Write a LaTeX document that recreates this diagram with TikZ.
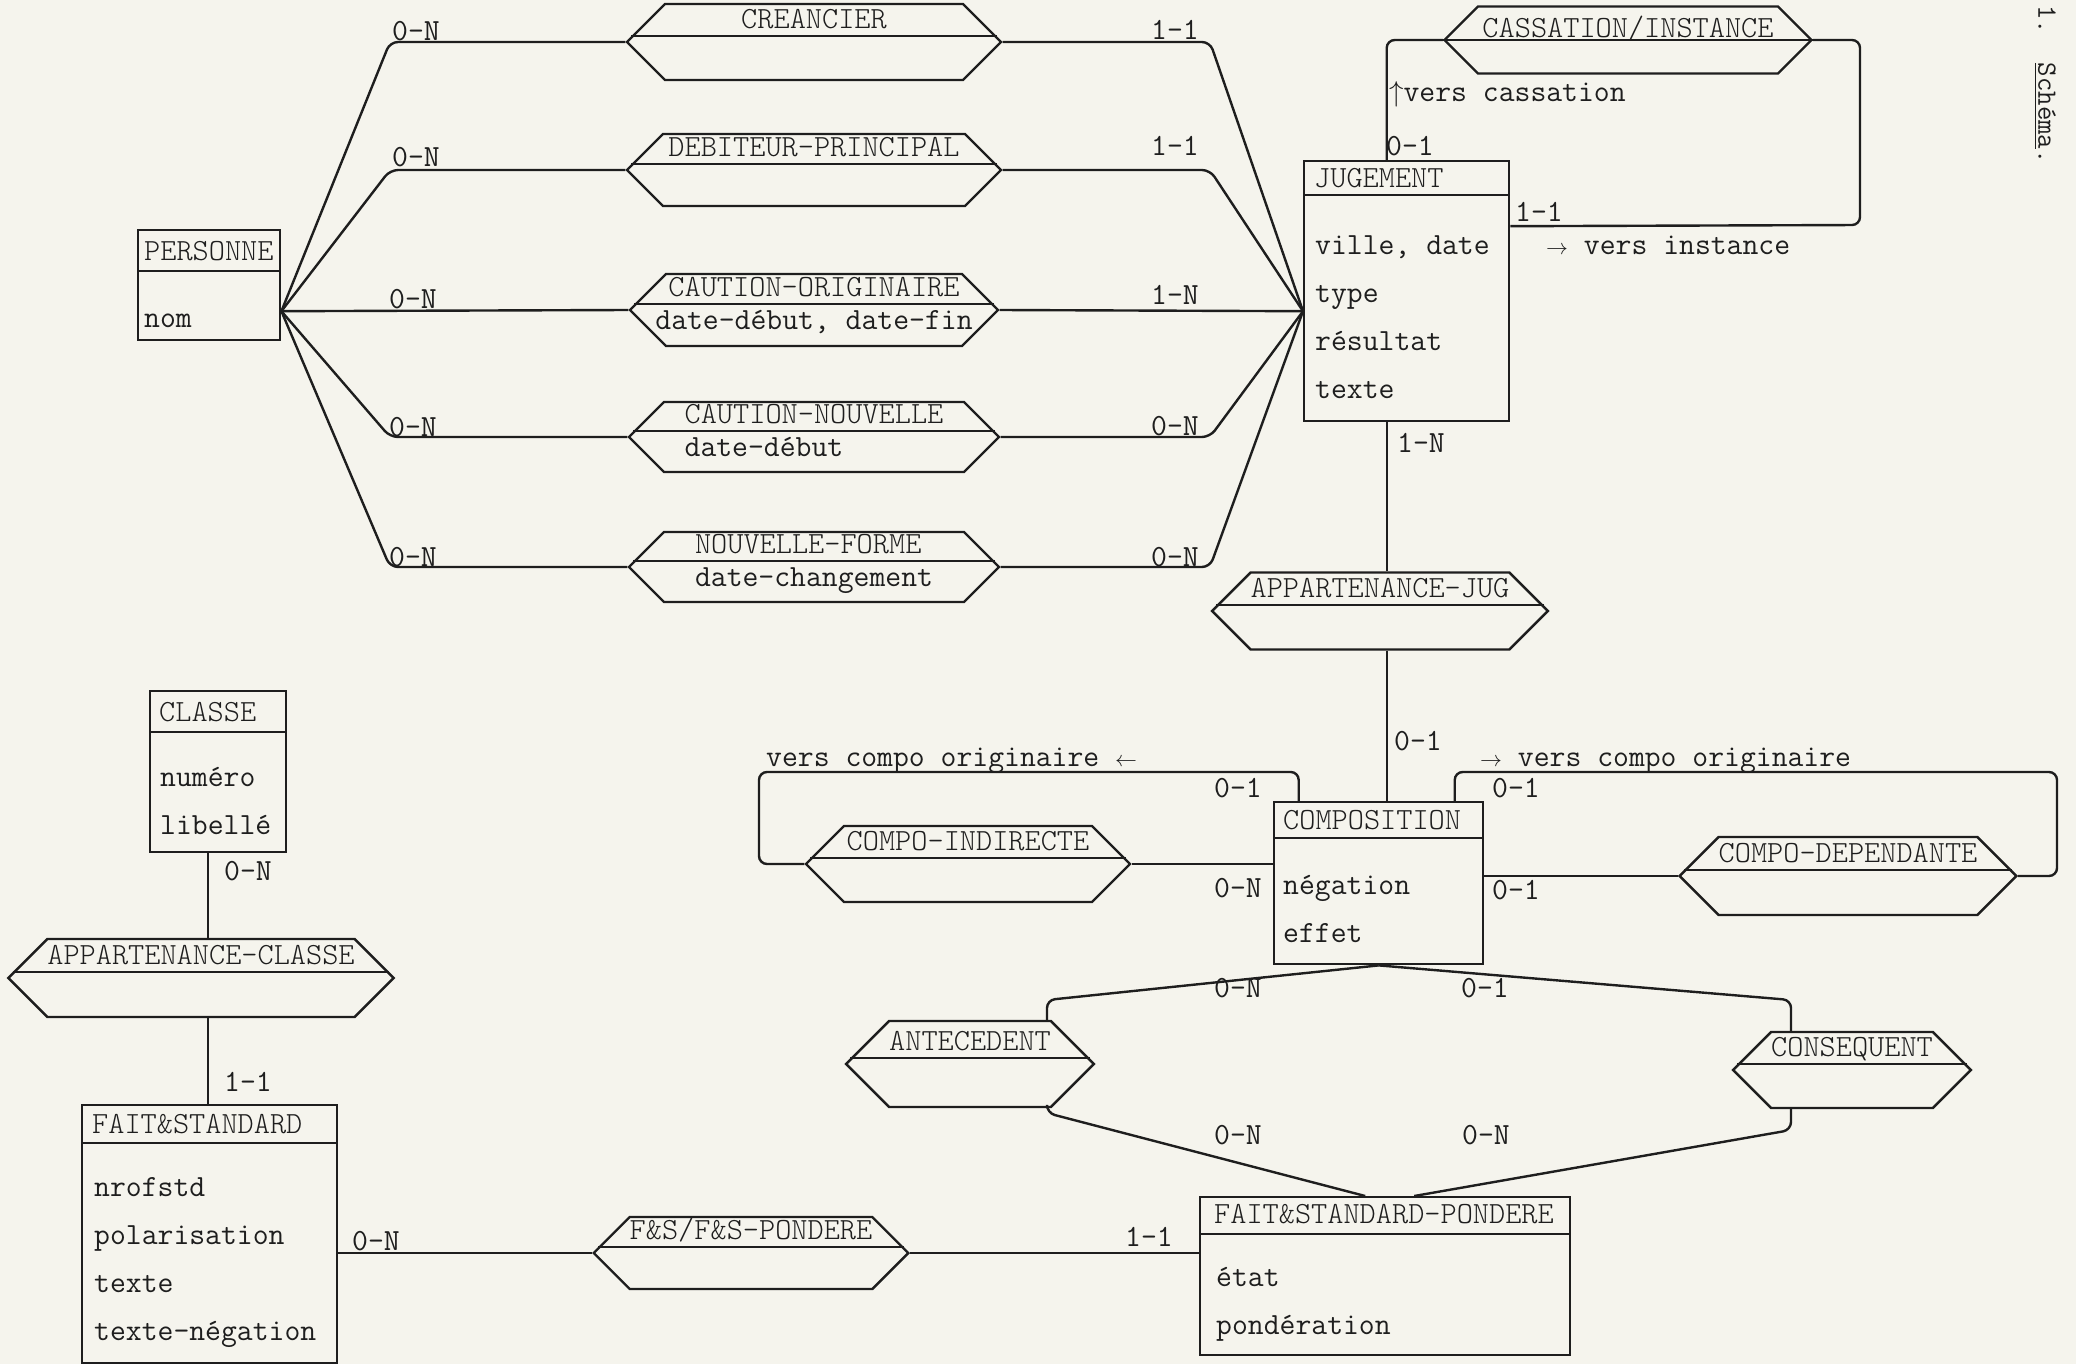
\documentclass[tikz,border=0pt]{standalone}
\usepackage{fontspec}
\newfontfamily\lightmono{lmmonolt10-regular.otf}
\usetikzlibrary{shapes.symbols}
\definecolor{papier}{RGB}{245,244,237}
\definecolor{ink}{RGB}{30,30,30}

\begin{document}
\begin{tikzpicture}
  [x=0.5pt,y=-0.5pt,line width=1.2pt,color=ink,
   every node/.style={inner sep=0pt},
   ent/.style={draw,rectangle,anchor=north west},
   titre/.style={anchor=west,font=\lightmono\fontsize{15.4}{18}\selectfont,
     text height=9.4pt,text depth=0pt},
   attr/.style={anchor=north west,align=left,
     font=\ttfamily\fontsize{15.4}{24}\selectfont},
   rel/.style={draw,signal,signal to=west and east,
     font=\lightmono\fontsize{15.4}{16.6}\selectfont,
     text height=10pt,text depth=23.6pt},
   card/.style={font=\ttfamily\fontsize{15.4}{18}\selectfont,
     text height=9.4pt,text depth=0pt},
   note/.style={anchor=base west,font=\ttfamily\fontsize{15.4}{18}\selectfont},
   lien/.style={rounded corners=4pt}]
  \path[use as bounding box,fill=papier] (0,0) rectangle (2076,1364);

  % entites
  \node[ent,minimum width=71pt,minimum height=55pt] (per) at (137,229) {};
  \node[ent,minimum width=102.5pt,minimum height=130pt] (jug) at (1303,160) {};
  \node[ent,minimum width=104.5pt,minimum height=81pt] (comp) at (1273,801) {};
  \node[ent,minimum width=68pt,minimum height=80.5pt] (cla) at (149,690) {};
  \node[ent,minimum width=127.5pt,minimum height=129pt] (fs) at (81,1104) {};
  \node[ent,minimum width=185pt,minimum height=79pt] (fsp) at (1199,1196) {};
  \foreach \e/\y in {per/271,jug/195,comp/838,cla/732,fs/1143,fsp/1234}
    \draw (\e.west |- 0,\y) -- (\e.east |- 0,\y);

  \node[titre] (perN) at (143,251) {PERSONNE};
  \node[titre] (jugN) at (1313,178) {JUGEMENT};
  \node[titre] (compN) at (1282,820) {COMPOSITION};
  \node[titre] (claN) at (158,712) {CLASSE};
  \node[titre] (fsN) at (91,1124) {FAIT\&STANDARD};
  \node[titre] (fspN) at (1213,1214) {FAIT\&STANDARD-PONDERE};

  \node[attr] (perA) at (143,293) {\strut nom};
  \node[attr] (jugA) at (1314,220) {\strut ville, date\\type\\résultat\\texte};
  \node[attr] (compA) at (1282,860) {\strut négation\\effet};
  \node[attr] (claA) at (159,752) {\strut numéro\\libellé};
  \node[attr] (fsA) at (93,1162) {\strut nrofstd\\polarisation\\texte\\texte-négation};
  \node[attr] (fspA) at (1215,1252) {\strut état\\pondération};

  % relations
  \node[rel,minimum width=187pt,minimum height=38pt] (cre) at (814,42) {CREANCIER};
  \node[rel,minimum width=187pt,minimum height=36pt] (deb) at (814,170) {DEBITEUR-PRINCIPAL};
  \node[rel,minimum width=184pt,minimum height=36pt,inner xsep=-7pt] (cor) at (814,310)
    {\begin{tabular}[t]{@{}c@{}}CAUTION-ORIGINAIRE\\ \ttfamily date-début, date-fin\end{tabular}};
  \node[rel,minimum width=185pt,minimum height=35pt] (cnv) at (814,437)
    {\begin{tabular}[t]{@{}l@{}}CAUTION-NOUVELLE\\ \ttfamily date-début\end{tabular}};
  \node[rel,minimum width=185pt,minimum height=35pt] (nfo) at (814,567)
    {\begin{tabular}[t]{@{}l@{}}NOUVELLE-FORME\\ \ttfamily date-changement\end{tabular}};
  \node[rel,minimum width=183.5pt,minimum height=33.5pt,text depth=12.6pt] (cas) at (1628,40)
    {CASSATION/INSTANCE};
  \node[rel,minimum width=167.5pt,minimum height=38.5pt] (apj) at (1380,611) {APPARTENANCE-JUG};
  \node[rel,minimum width=162pt,minimum height=38pt] (cin) at (968,864) {COMPO-INDIRECTE};
  \node[rel,minimum width=166.5pt,minimum height=39pt] (cdp) at (1848,876) {COMPO-DEPENDANTE};
  \node[rel,minimum width=119.5pt,minimum height=43pt] (ant) at (970,1064) {ANTECEDENT};
  \node[rel,minimum width=115.5pt,minimum height=38pt] (csq) at (1852,1070) {CONSEQUENT};
  \node[rel,minimum width=191pt,minimum height=39pt] (apc) at (201,978) {APPARTENANCE-CLASSE};
  \node[rel,minimum width=156.5pt,minimum height=36pt] (fsf) at (751,1253) {F\&S/F\&S-PONDERE};
  \foreach \x in {cre,deb,cor,cnv,nfo,apj,cin,cdp,ant,csq,apc,fsf}
    \draw ([shift={(3pt,3pt)}]\x.west) -- ([shift={(-3pt,3pt)}]\x.east);
  \draw (cas.west) -- (cas.east);

  % liens
  \coordinate (perR) at ([yshift=-13pt]per.east);
  \coordinate (jugL) at ([yshift=-10pt]jug.west);
  \foreach \x in {cre,deb,cnv,nfo} {
    \draw[lien] (perR) -- (390,0 |- \x.west) -- (\x.west);
    \draw[lien] (\x.east) -- (1210,0 |- \x.east) -- (jugL);
  }
  \draw (perR) -- (cor.west);
  \draw (cor.east) -- (jugL);

  \coordinate (jugH) at ([xshift=-10pt]jug.north);
  \draw[lien] (jugH) |- (cas.west);
  \draw[lien] (cas.east) -| (1860,225) -- ([yshift=32.5pt]jug.east);

  \coordinate (jugB) at ([xshift=-10pt]jug.south);
  \draw (jugB) -- (jugB |- apj.north);
  \draw (jugB |- apj.south) -- (jugB |- comp.north);

  \draw[lien] ([xshift=-40pt]comp.north) |- (759,772) |- (cin.west);
  \draw (cin.east) -- (cin.east -| comp.west);
  \draw[lien] ([xshift=38pt]comp.north) |- (2057,772) |- (cdp.east);
  \draw (cdp.west) -- (cdp.west -| comp.east);

  \draw[lien] (comp.south) -- (1047,1000) -- (1047,0 |- ant.north);
  \draw[lien] (1047,0 |- ant.south) -- (1047,1113) -- ([xshift=-10pt]fsp.north);
  \draw[lien] (comp.south) -- (1791,1000) -- (1791,0 |- csq.north);
  \draw[lien] (1791,0 |- csq.south) -- (1791,1130) -- ([xshift=14.5pt]fsp.north);

  \coordinate (claB) at ([xshift=-5pt]cla.south);
  \draw (claB) -- (claB |- apc.north);
  \draw (claB |- apc.south) -- (claB |- fs.north);
  \draw (fsf.west -| fs.east) -- (fsf.west);
  \draw (fsf.east) -- (fsf.east -| fsp.west);

  % cardinalites
  \foreach \x/\y/\t [count=\i] in {416/31/0-N,416/157/0-N,413/299/0-N,413/427/0-N,
      413/557/0-N,1175/30/1-1,1175/146/1-1,1175/295/1-N,1175/426/0-N,1175/557/0-N,
      1410/146/0-1,1539/212/1-1,1421/443/1-N,1418/741/0-1,1238/788/0-1,1238/888/0-N,
      1516/788/0-1,1516/890/0-1,1238/988/0-N,1485/988/0-1,1238/1135/0-N,1486/1135/0-N,
      248/871/0-N,248/1082/1-1,376/1241/0-N,1149/1237/1-1}
    \node[card] (card\i) at (\x,\y) {\t};

  \node[note] (versCas) at (1388,102) {$\uparrow$vers cassation};
  \node[note] (versInst) at (1545,255) {$\scriptstyle\rightarrow$ vers instance};
  \node[note] (versG) at (765,766) {vers compo originaire $\scriptstyle\leftarrow$};
  \node[note] (versD) at (1479,766) {$\scriptstyle\rightarrow$ vers compo originaire};

  \node[rotate=-90,anchor=west,font=\ttfamily\fontsize{14}{16}\selectfont] (schema)
    at (2045,4) {1.~~\underline{Schéma}.};
\end{tikzpicture}
\end{document}
